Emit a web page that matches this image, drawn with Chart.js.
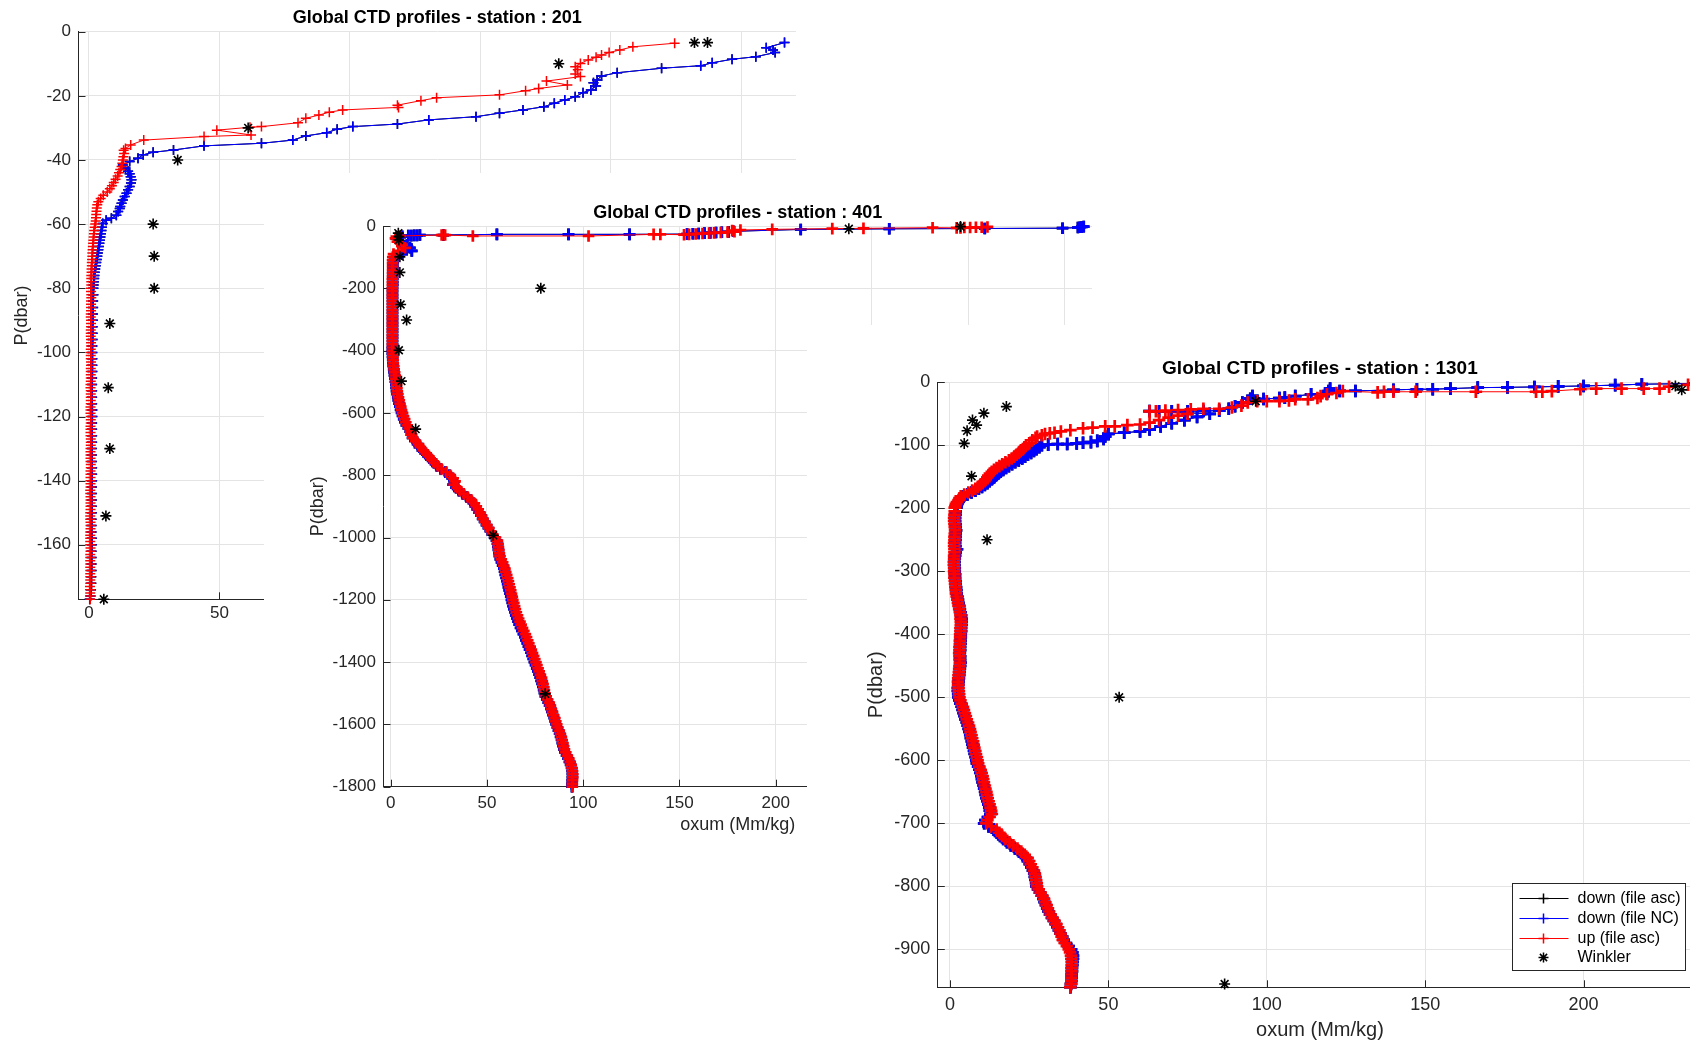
<!DOCTYPE html>
<html>
<head>
<meta charset="utf-8">
<title>Global CTD profiles</title>
<script src="https://cdn.jsdelivr.net/npm/chart.js@4.4.0/dist/chart.umd.min.js"></script>
<style>
  html, body { margin: 0; padding: 0; width: 1690px; height: 1042px; overflow: hidden; background: #fff; }
  .fenetre { position: absolute; background: #fff; }
  canvas { display: block; }
</style>
</head>
<body>
<div class="fenetre" style="left:0px;top:0px;"><canvas id="c201" width="820" height="650"></canvas></div>
<div class="fenetre" style="left:264px;top:173px;"><canvas id="c401" width="850" height="869"></canvas></div>
<div class="fenetre" style="left:807px;top:325px;"><canvas id="c1301" width="920" height="717"></canvas></div>
<script>
// ---------- station 201 ----------
const ticks201X = [0,50,100,150,200,250];
const ticks201Y = [0,-20,-40,-60,-80,-100,-120,-140,-160];
// up (file asc) - rouge
const p201Up = [-3.6,-4.7,-5.7,-6.5,-7.3,-8,-8.8,-9.9,-10.9,-11.9,-13.2,-14,-15.4,-16.6,-17.7,-18.4,-19.7,-20.6,-21.5,-22.9,
  -23.6,-24.4,-25.1,-26,-27,-28.4,-29.6,-29.8,-30.7,-32.2,-32.7,-33.8,-35.3,-36.4,
  -37,-38,-39,-40,-41,-42,-43,-44,-45,-46,-47,-48,-49,-50,-51,-52,-53,-54,-55,-56,
  -57,-58,-59,-60,-61,-62,-63,-64,-65,-66,-67,-68,-69,-70,-71,-72,-73,-74,-75,-76,
  -77,-78,-79,-80,-81,-82,-83,-84,-85,-86,-87,-88,-89,-90,-91,-92,-93,-94,-95,-96,
  -97,-98,-99,-100,-101,-102,-103,-104,-105,-106,-107,-108,-109,-110,-111,-112,-113,-114,-115,-116,
  -117,-118,-119,-120,-121,-122,-123,-124,-125,-126,-127,-128,-129,-130,-131,-132,-133,-134,-135,-136,
  -137,-138,-139,-140,-141,-142,-143,-144,-145,-146,-147,-148,-149,-150,-151,-152,-153,-154,-155,-156,
  -157,-158,-159,-160,-161,-162,-163,-164,-165,-166,-167,-168,-169,-170,-171,-172,-173,-174,-175,-176,-177];
const ox201Up = [224.4,208.4,203.4,199.3,196.4,194.3,191.3,188.3,186.3,187.3,186.3,188.3,175.3,183.3,172.3,167.3,157.3,133.2,127.2,118.2,
  118.6,97.2,92.1,88.1,83.1,80.1,66.1,61.7,49,62.1,44.1,21,16,14,
  13.3,13.5,13.2,13,12.8,12.5,12,11.5,11,10.2,9.5,8.8,8,7,5.5,4.5,3.6,3.2,3,2.9,
  2.8,2.7,2.6,2.4,2.2,2,1.9,1.8,1.7,1.6,1.5,1.4,1.3,1.3,1.2,1.1,1.1,1,1,0.9,
  0.9,0.9,0.9,0.8,0.8,0.9,0.9,0.8,0.8,0.8,0.8,0.7,0.7,0.8,0.8,0.8,0.7,0.7,0.7,0.8,
  0.8,0.8,0.7,0.7,0.7,0.7,0.8,0.8,0.7,0.7,0.7,0.7,0.7,0.6,0.6,0.7,0.7,0.7,0.7,0.7,
  0.6,0.6,0.6,0.7,0.7,0.7,0.6,0.6,0.6,0.6,0.7,0.7,0.7,0.6,0.6,0.6,0.6,0.6,0.7,0.7,
  0.6,0.6,0.6,0.6,0.6,0.6,0.5,0.5,0.6,0.6,0.6,0.6,0.6,0.5,0.5,0.5,0.6,0.6,0.6,0.5,
  0.5,0.5,0.5,0.5,0.6,0.6,0.5,0.5,0.5,0.5,0.5,0.5,0.5,0.5,0.5,0.5,0.4,0.4,0.5,0.5,0.5];
// down (file NC / file asc) - bleu / noir
const p201Down = [-3.4,-5,-5.7,-6.5,-7.8,-8.6,-9.7,-10.6,-11.4,-12.8,-13.8,-15.1,-15.9,-16.9,-18.2,-19,-20.3,-21.3,-22.3,-23.4,
  -24.4,-25.4,-26.5,-27.5,-28.8,-29.6,-30.4,-31.5,-32.5,-33.8,-34.8,-35.6,-36.9,-37.6,-38.4,-39.5,-40.5,-41.6,-42.5,-43.5,
  -44.3,-45.2,-46.2,-47.2,-48.3,-49.3,-50.4,-51.4,-52.5,-53.5,-54.5,-55.1,-56.1,-57.2,-58.2,-58.8,-59.8,
  -61,-62,-63,-64,-65,-66,-67,-68,-69,-70,-71,-72,-73,-74,-75,-76,-77,-78,-79,-80,
  -82,-84,-86,-88,-90,-92,-94,-96,-98,-100,-102,-104,-106,-108,-110,-112,-114,-116,-118,-120,
  -122,-124,-126,-128,-130,-132,-134,-136,-138,-140,-142,-144,-146,-148,-150,-152,-154,-156,-158,-160,
  -162,-164,-166,-168,-170,-172,-174,-176,-177];
const ox201Down = [266.5,259.5,262.1,262.9,255.5,246.4,238.8,234.4,219.4,202.4,196.4,194.7,193.3,194.3,192.3,189.3,186.3,182.3,178.3,174.3,
  166.3,157.3,148.3,130.2,118.2,101.1,95.1,91.1,83.1,78.1,66.1,44.1,32.4,24.6,20.8,18.8,15.6,13,14,15,
  15.6,16,16.3,16.1,15.6,15,14.4,13.7,13,12.5,12,11.8,11.2,10.5,8.6,6.6,5.3,
  5,4.8,4.6,4.4,4.2,4,3.8,3.6,3.4,3.2,3,2.8,2.6,2.4,2.2,2.1,2,1.9,1.8,1.7,
  1.7,1.6,1.6,1.5,1.5,1.4,1.4,1.4,1.3,1.3,1.3,1.3,1.3,1.2,1.2,1.2,1.2,1.2,1.3,1.3,
  1.2,1.2,1.2,1.2,1.1,1.1,1.1,1.2,1.2,1.2,1.1,1.1,1.1,1.1,1.1,1,1,1,1.1,1.1,
  1,1,1,1,0.9,0.9,0.8,0.6,0.3];
// Winkler
const w201Ox = [232,237,180,61,34,24.6,25,25,8,7.4,8,6.5,5.7];
const w201P = [-3.4,-3.4,-10,-30,-40,-60,-70,-80,-91,-111,-130,-151,-177];

// ---------- station 401 ----------
const ticks401X = [0,50,100,150,200,250,300,350];
const ticks401Y = [0,-200,-400,-600,-800,-1000,-1200,-1400,-1600,-1800];
const p401UpTop = [-3,-4,-4,-5,-5,-6,-6,-5.4,-7.5,-8.5,-10.7,-12.8,-15,-18,-19.5,-21,-22,-23,-24,-25.5,
  -27,-28,-26.8,-27,-32,-32,-29,-29,-32,-34];
const ox401UpTop = [310,307,304,301,298,296,294,281.5,245.6,229.4,198.2,181.7,177.4,178.6,175,171.5,168,165.4,162,158.5,
  155,152.4,140.1,136.6,102.8,42.7,28.3,26.5,5,3];
const p401DownTop = [-2,-3,-4,-5,-7,-8,-9,-11,-17,-19,-20,-21,-22,-23,-24,-25,-26,-26.8,-26.8,-26.8,
  -29,-29,-30,-30,-31,-31,-33,-36];
const ox401DownTop = [360,359,358,357,349,308.6,259,213,178,175.5,172,169,166,163,160,157,154,124.1,92.4,55.2,
  27.4,15.2,13.7,12.2,10.7,9.2,6,5];
const p401Deep = [-40,-50,-60,-70,-80,-90,-100,-110,-120,-130,-140,-150,-160,-170,-180,-190,-200,-210,-220,-230,
  -240,-250,-260,-270,-280,-290,-300,-310,-320,-330,-340,-350,-360,-370,-380,-390,-400,-410,-420,-430,
  -440,-450,-460,-470,-480,-490,-500,-510,-520,-530,-540,-550,-560,-570,-580,-590,-600,-610,-620,-630,
  -640,-650,-660,-670,-680,-690,-700,-710,-720,-730,-740,-750,-760,-770,-780,-790,-800,-810,-820,-830,
  -840,-850,-860,-870,-880,-890,-900,-910,-920,-930,-940,-950,-960,-970,-980,-990,-1000,-1010,-1020,-1030,
  -1040,-1050,-1060,-1070,-1080,-1090,-1100,-1110,-1120,-1130,-1140,-1150,-1160,-1170,-1180,-1190,-1200,-1210,-1220,-1230,
  -1240,-1250,-1260,-1270,-1280,-1290,-1300,-1310,-1320,-1330,-1340,-1350,-1360,-1370,-1380,-1390,-1400,-1410,-1420,-1430,
  -1440,-1450,-1460,-1470,-1480,-1490,-1500,-1510,-1520,-1530,-1540,-1550,-1560,-1570,-1580,-1590,-1600,-1610,-1620,-1630,
  -1640,-1650,-1660,-1670,-1680,-1690,-1700,-1710,-1720,-1730,-1740,-1750,-1760,-1770,-1780,-1790,-1800];
const ox401UpDeep = [2.5,3.5,6,7.5,4,1.5,1.1,1,1,1,1,1,1,0.9,0.9,0.9,0.9,0.9,0.9,0.9,
  0.9,0.9,0.9,0.9,0.9,0.9,0.9,0.9,0.9,0.9,0.9,0.9,0.9,0.9,0.9,1,1,1.1,1.2,1.3,
  1.4,1.6,1.8,2.1,2.4,2.7,2.9,3.1,3.3,3.5,3.8,4.1,4.5,4.9,5.3,5.7,6.2,6.7,7.3,7.9,
  8.6,9.5,10.4,10.8,11.5,13,14.5,15.5,17,18.5,20,21.5,22.8,24.5,26.5,29,31,32.5,33.5,33,
  34.5,36,38,40,42,43.5,44.5,45.5,46.5,47.3,48,49,50,51,52,53,54.5,55.5,55.8,56,
  56.2,56.5,56.8,57.5,58.2,58.8,59.4,59.8,60.3,60.8,61.2,61.6,62,62.4,62.8,63.2,63.5,64,64.4,64.8,
  65.3,65.9,66.5,67.2,67.8,68.5,69.2,70,70.6,71.2,71.8,72.5,73.1,73.7,74.3,74.9,75.5,76,76.6,77.2,
  77.8,78.4,78.8,79.2,79.6,79.9,80.2,80.8,81.6,82.4,83,83.5,84.1,84.7,85.3,85.8,86.3,86.9,87.6,88.2,
  88.7,89.1,89.5,89.9,90.3,91,91.8,92.6,93.3,93.8,94.2,94.5,94.6,94.6,94.5,94.4,94.4];
const ox401DownDeep = [3,5,8.5,10,11,6,2,1.4,1.2,1.2,1.2,1.1,1.1,1.1,1.1,1.1,1,1,1,1,
  1,1,1,1,1,1,1,1,1,1,1,1,1,1,1,0.9,0.9,0.9,1,1.1,
  1.2,1.4,1.6,1.8,2,2.3,2.5,2.7,2.9,3.1,3.4,3.7,4,4.4,4.8,5.2,5.7,6.2,6.8,7.4,
  8.2,9.2,10.2,10.8,11.4,12.6,14,15,16.5,18,19.5,21,22.5,24,26,28.5,30.5,32,33,32.5,
  34,35.5,37.5,39.5,41.5,43,44,45,46,47,47.8,48.8,49.8,50.8,51.8,52.8,54,55,55.5,55.7,
  56,56.2,56.5,57,57.6,58.2,58.8,59.2,59.6,60,60.4,60.8,61.2,61.6,62,62.4,62.8,63.2,63.6,64,
  64.5,65,65.6,66.2,66.8,67.5,68.2,69,69.7,70.3,71,71.6,72.2,72.9,73.5,74.1,74.7,75.3,75.9,76.5,
  77.1,77.7,78.2,78.7,79.1,79.5,79.9,80.4,81.1,81.9,82.6,83.2,83.8,84.4,85,85.5,86,86.6,87.2,87.8,
  88.3,88.8,89.2,89.6,90,90.6,91.4,92.2,92.9,93.5,94,94.3,94.4,94.4,94.3,94.2,94.2];
const w401Ox = [296,238,4,4.3,4.3,4.8,4.8,78,5.2,8.3,4.3,5.6,13,53.3,80.3];
const w401P = [-2,-9,-23,-34,-45,-99,-149,-200,-252,-302,-399,-498,-652,-993,-1502];

// ---------- station 1301 ----------
const ticks1301X = [0,50,100,150,200];
const ticks1301Y = [0,-100,-200,-300,-400,-500,-600,-700,-800,-900];
const p1301UpTop = [-4,-7,-10,-10,-10,-10,-11,-14,-15,-15,-15,-15,-15,-15,-16,-14,-17,-19,-22,-25,
  -27,-27,-29,-30,-30,-30,-32,-37,-40,-42,-42,-43,-44,-45,-46,-46,-50,-53,-56,-60,
  -64,-67,-68,-70,-70,-72,-73,-76,-78,-80,-81,-82,-84,-86,-88,-92,-97,-100,-103,-106,
  -109,-112,-115,-118,-121,-124,-127,-130,-133,-136,-139,-142,-145,-148,-151,-154,-157,-160,-163,-166,
  -169,-172,-175,-178,-181,-184,-187,-190,-193,-196,-199];
const ox1301UpTop = [233,227,224,219,212,204,199,190,187,185,166,147,140,137,135,124,122,119,117,116,
  113,109,107,104,100,97,94,92,89,85,80,76,72,68,65,63,75,72,69,66,
  63,60,56,52,49,45,42,38,35,33,31.5,30,29,27.5,27,26,25,24,23.5,23,
  22.3,21.7,21,20.3,19.5,18.6,17.5,16.5,15.6,14.7,13.9,13.2,12.6,12.1,11.8,11.3,10.9,10.3,9.6,8.8,
  8,7,5.8,4.5,3.4,3,2.7,2.2,1.9,1.7,1.5];
const p1301DownTop = [-2,-3,-4.5,-5.8,-6.5,-7.4,-8,-8.5,-10,-11,-11,-12,-13.7,-13.7,-10,-14,-18,-19,-22,-24.3,
  -25,-26.5,-21.7,-26,-32,-38,-42,-45,-45.5,-46,-46,-46,-45.6,-50,-55,-60,-65,-70,-75,-78,
  -80,-82,-86,-90,-93,-95,-96,-97,-98,-98,-99,-100,-103,-106,-109,-112,-115,-118,-121,-124,
  -127,-130,-133,-136,-139,-142,-145,-148,-151,-154,-157,-160,-163,-166,-169,-172,-175,-178,-181,-184,
  -187,-190,-193,-196,-199];
const ox1301DownTop = [235,218.4,210,200,192,184.5,176,166.6,158,152.4,147.4,140,128,123,120,119.5,119,114,109,105.7,
  104,99,95.5,94.8,92.3,90,88,85,80,75,70,66,63,82,78,74,70,66.5,63,60,
  55,50,49,48.5,46.5,44.5,42,40,37,34,31,29,28.2,27.3,26.5,25.6,24.6,23.7,22.8,21.7,
  20.6,19.6,18.6,17.7,16.8,16,15.2,14.5,13.9,13.2,12.5,11.8,11,10.1,9.1,8,6.8,5.5,4.3,3.5,
  3,2.6,2.3,2.1,2];
const p1301Deep = [-205,-210,-215,-220,-225,-230,-235,-240,-245,-250,-255,-260,-265,-270,-275,-280,-285,-290,-295,-300,
  -305,-310,-315,-320,-325,-330,-335,-340,-345,-350,-355,-360,-365,-370,-375,-380,-385,-390,-395,-400,
  -405,-410,-415,-420,-425,-430,-435,-440,-445,-450,-455,-460,-465,-470,-475,-480,-485,-490,-495,-500,
  -505,-510,-515,-520,-525,-530,-535,-540,-545,-550,-555,-560,-565,-570,-575,-580,-585,-590,-595,-600,
  -605,-610,-615,-620,-625,-630,-635,-640,-645,-650,-655,-660,-665,-670,-675,-680,-685,-690,-695,-700,
  -705,-710,-715,-720,-725,-730,-735,-740,-745,-750,-755,-760,-765,-770,-775,-780,-785,-790,-795,-800,
  -805,-810,-815,-820,-825,-830,-835,-840,-845,-850,-855,-860,-865,-870,-875,-880,-885,-890,-895,-900,
  -905,-910,-915,-920,-925,-930,-935,-940,-945,-950,-955,-960];
const ox1301UpDeep = [1.5,1.4,1.3,1.3,1.4,1.5,1.6,1.5,1.4,1.4,1.3,1.3,1.4,1.4,1.3,1.3,1.2,1.2,1.3,1.3,
  1.4,1.4,1.5,1.6,1.7,1.8,1.9,2.1,2.3,2.5,2.7,2.9,3.1,3.3,3.3,3.4,3.4,3.3,3.3,3.2,
  3.2,3.1,3.1,3,3,2.9,3,3,3.1,3,2.9,2.8,2.7,2.6,2.5,2.6,2.7,2.8,2.9,3,
  3.3,3.7,4.1,4.4,4.7,5,5.3,5.7,6,6.3,6.5,6.8,7,7.3,7.5,7.7,8,8.2,8.5,8.7,
  8.9,9.3,9.7,10,10.3,10.5,10.7,11,11.2,11.5,11.7,11.9,12.2,12.5,12.8,13,13.2,12.5,11.8,11.5,
  13,14.7,15.6,16.5,17.5,18.8,20,21.3,22.5,23.6,24.5,25,25.5,26,26.5,26.8,27,27.2,27.4,27.5,
  28,28.6,29.2,29.7,30.1,30.5,30.9,31.3,31.8,32.4,33,33.6,34.1,34.5,34.9,35.3,35.6,36.2,36.9,37.5,
  37.9,38.2,38.3,38.4,38.4,38.4,38.4,38.3,38.3,38.3,38.2,38];
const ox1301DownDeep = [1.8,1.7,1.6,1.6,1.7,1.8,1.9,1.8,1.7,1.7,1.6,1.7,2.2,1.8,1.6,1.5,1.4,1.4,1.5,1.5,
  1.6,1.6,1.7,1.8,1.9,2,2.1,2.3,2.5,2.7,2.9,3.1,3.3,3.5,3.6,3.6,3.6,3.5,3.5,3.4,
  3.4,3.3,3.3,3.2,3.2,3.1,3.2,3.2,3.3,3.2,3.1,3,2.9,2.8,2.7,2.6,2.5,2.5,2.6,2.7,
  3,3.3,3.7,4,4.3,4.6,4.9,5.3,5.6,5.9,6.1,6.4,6.6,6.9,7.1,7.3,7.6,7.8,8.1,8.3,
  8.5,8.9,9.3,9.6,9.9,10.1,10.3,10.6,10.8,11.1,11.3,11.5,11.8,12.1,12.4,12.6,12.8,12,11.2,10.8,
  12.2,13.8,14.8,15.8,16.8,18,19.2,20.5,21.8,23,24,24.6,25.2,25.7,26.2,26.6,26.8,27,27.2,27.3,
  27.8,28.4,29,29.5,29.9,30.3,30.7,31.1,31.6,32.2,32.8,33.4,33.9,34.4,34.9,35.4,35.9,36.6,37.4,38.2,
  38.6,38.8,38.8,38.7,38.6,38.5,38.5,38.4,38.4,38.3,38.2,38];
const w1301Ox = [229,231,96.5,17.8,10.7,7.1,8.4,5.4,4.5,6.8,11.7,53.4,86.7];
const w1301P = [-6,-12,-30,-38.6,-49,-60,-68,-77,-97,-149,-250,-500,-955];

const FONT = '"Liberation Sans", Arial, Helvetica, sans-serif';
Chart.defaults.font.family = FONT;

function pts(ox, p) {
  return ox.map((v, i) => ({ x: v, y: p[i] }));
}

// graduations imposees (valeurs exactes, sans separateur de milliers)
function graduations(valeurs) {
  return s => { s.ticks = valeurs.map(v => ({ value: v })); };
}

// legende facon matlab (cadre, trait + marqueur, texte)
function dessineLegende(chart, a, L) {
  const ctx = chart.ctx;
  const bx = Math.round(a.right - L.inset - L.w) + 0.5;
  const by = Math.round(a.bottom - L.inset - L.h) + 0.5;
  ctx.fillStyle = '#fff';
  ctx.fillRect(bx, by, L.w, L.h);
  ctx.strokeStyle = '#262626';
  ctx.lineWidth = 1;
  ctx.strokeRect(bx, by, L.w, L.h);
  ctx.font = L.size + 'px ' + FONT;
  ctx.textAlign = 'left';
  ctx.textBaseline = 'middle';
  const items = chart.data.datasets.slice().reverse();
  items.forEach((d, i) => {
    const cy = Math.round(by + L.first + i * L.step) + 0.5;
    const cx = bx + 31;
    ctx.strokeStyle = d.borderColor;
    if (d.showLine) {
      ctx.lineWidth = 1;
      ctx.beginPath();
      ctx.moveTo(bx + 7, cy);
      ctx.lineTo(bx + 56, cy);
      ctx.stroke();
    }
    ctx.lineWidth = 1.5;
    ctx.beginPath();
    ctx.moveTo(cx - 5, cy); ctx.lineTo(cx + 5, cy);
    ctx.moveTo(cx, cy - 5); ctx.lineTo(cx, cy + 5);
    if (d.pointStyle === 'star') {
      ctx.moveTo(cx - 3.6, cy - 3.6); ctx.lineTo(cx + 3.6, cy + 3.6);
      ctx.moveTo(cx - 3.6, cy + 3.6); ctx.lineTo(cx + 3.6, cy - 3.6);
    }
    ctx.stroke();
    ctx.fillStyle = '#000';
    ctx.fillText(d.label, bx + 65, cy);
  });
}

const cadre = {
  id: 'cadre',
  beforeDatasetsDraw(chart, args, o) {
    const { ctx, chartArea: a, scales: { x, y } } = chart;
    ctx.save();
    ctx.strokeStyle = '#262626';
    ctx.lineWidth = 1;
    ctx.beginPath();
    x.ticks.forEach(t => {
      const px = Math.round(x.getPixelForValue(t.value)) + 0.5;
      ctx.moveTo(px, a.bottom); ctx.lineTo(px, a.bottom - o.tick);
    });
    y.ticks.forEach(t => {
      const py = Math.round(y.getPixelForValue(t.value)) + 0.5;
      ctx.moveTo(a.left, py); ctx.lineTo(a.left + o.tick, py);
    });
    ctx.stroke();
    ctx.restore();
  },
  afterDraw(chart, args, o) {
    const { ctx, chartArea: a } = chart;
    ctx.save();
    ctx.fillStyle = '#000';
    ctx.font = 'bold ' + o.size + 'px ' + FONT;
    ctx.textAlign = 'center';
    ctx.textBaseline = 'middle';
    ctx.fillText(o.text, (a.left + a.right) / 2, a.top - o.gap);
    if (o.legend) dessineLegende(chart, a, o.legend);
    ctx.restore();
  }
};

function profil(id, s, m) {
  const serie = (label, ox, p, color) => ({
    label: label, data: pts(ox, p), showLine: true, clip: false,
    borderColor: color, borderWidth: 1, pointStyle: 'cross',
    pointRadius: m.r, pointBorderWidth: m.pw
  });
  return new Chart(document.getElementById(id), {
    type: 'scatter',
    data: {
      datasets: [
        { label: 'Winkler', data: pts(s.wOx, s.wP), showLine: false, clip: false,
          borderColor: '#000', pointStyle: 'star', pointRadius: 5.5, pointBorderWidth: 1.6 },
        serie('up (file asc)', s.upOx, s.upP, '#ff0000'),
        serie('down (file NC)', s.downOx, s.downP, '#0000ff'),
        serie('down (file asc)', s.downOx, s.downP, '#000000')
      ]
    },
    options: {
      responsive: false,
      animation: false,
      devicePixelRatio: 1,
      events: [],
      layout: { padding: m.pad },
      plugins: {
        legend: { display: false },
        tooltip: { enabled: false },
        cadre: { text: s.title, size: m.title, gap: m.gap, tick: 7, legend: m.legend }
      },
      scales: {
        x: {
          type: 'linear', min: m.xMin, max: m.xMax,
          afterBuildTicks: graduations(s.xTicks),
          afterFit: sc => { sc.height = m.xH; },
          grid: { color: '#e4e4e4', drawTicks: false },
          border: { color: '#262626', width: 1 },
          ticks: { padding: m.xPad, color: '#262626', font: { size: m.tick }, maxRotation: 0, autoSkip: false,
                   callback: v => String(v) },
          title: { display: true, text: 'oxum (Mm/kg)', color: '#262626', font: { size: m.lab }, padding: { top: 0, bottom: m.xTitlePad } }
        },
        y: {
          type: 'linear', min: m.yMin, max: 0,
          afterBuildTicks: graduations(s.yTicks),
          afterFit: sc => { sc.width = m.yW; },
          grid: { color: '#e4e4e4', drawTicks: false },
          border: { color: '#262626', width: 1 },
          ticks: { padding: 7.5, color: '#262626', font: { size: m.tick }, autoSkip: false,
                   callback: v => String(v) },
          title: { display: true, text: 'P(dbar)', color: '#262626', font: { size: m.lab }, padding: { top: m.yTitlePad, bottom: 0 } }
        }
      }
    },
    plugins: [cadre]
  });
}

profil('c201', {
  title: 'Global CTD profiles - station : 201', xTicks: ticks201X, yTicks: ticks201Y,
  upOx: ox201Up, upP: p201Up, downOx: ox201Down, downP: p201Down, wOx: w201Ox, wP: w201P
}, {
  pad: { left: 0, top: 31.7, right: 24, bottom: 0 }, yW: 78.5, xH: 50.7,
  xMin: -4, xMax: 270.9, yMin: -177,
  tick: 17, lab: 18, title: 18, gap: 13.4, xPad: 3.8, xTitlePad: 6, yTitlePad: 10.9, r: 5, pw: 1.5
});

profil('c401', {
  title: 'Global CTD profiles - station : 401', xTicks: ticks401X, yTicks: ticks401Y,
  upOx: ox401UpTop.concat(ox401UpDeep), upP: p401UpTop.concat(p401Deep),
  downOx: ox401DownTop.concat(ox401DownDeep), downP: p401DownTop.concat(p401Deep),
  wOx: w401Ox, wP: w401P
}, {
  pad: { left: 0, top: 53, right: 22, bottom: 205.3 }, yW: 119.5, xH: 50,
  xMin: -3.7, xMax: 364.3, yMin: -1800,
  tick: 17, lab: 18, title: 18, gap: 12.7, xPad: 6.4, xTitlePad: 0.9, yTitlePad: 43.2, r: 5.8, pw: 2.7
});

profil('c1301', {
  title: 'Global CTD profiles - station : 1301', xTicks: ticks1301X, yTicks: ticks1301Y,
  upOx: ox1301UpTop.concat(ox1301UpDeep), upP: p1301UpTop.concat(p1301Deep),
  downOx: ox1301DownTop.concat(ox1301DownDeep), downP: p1301DownTop.concat(p1301Deep),
  wOx: w1301Ox, wP: w1301P
}, {
  pad: { left: 0, top: 57.3, right: 25, bottom: 0 }, yW: 130.8, xH: 54.7,
  xMin: -3.85, xMax: 237.4, yMin: -960.3,
  tick: 18, lab: 20, title: 19, gap: 13.3, xPad: 6.9, xTitlePad: 0, yTitlePad: 57, r: 6.3, pw: 2.7,
  legend: { w: 173, h: 87, inset: 17, size: 16, first: 14.7, step: 19.7 }
});
</script>
</body>
</html>
